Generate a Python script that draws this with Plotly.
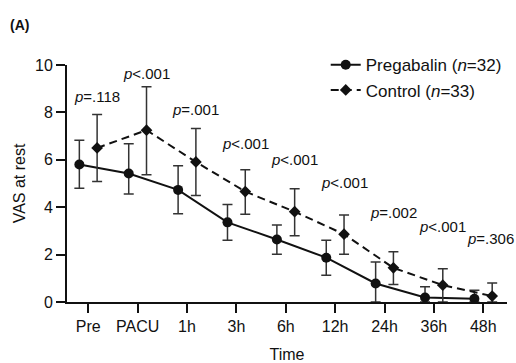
import plotly.graph_objects as go

times = ["Pre", "PACU", "1h", "3h", "6h", "12h", "24h", "36h", "48h"]
preg_mean = [5.8, 5.42, 4.73, 3.36, 2.64, 1.87, 0.78, 0.19, 0.14]
preg_plus = [1.02, 1.26, 1.02, 0.75, 0.61, 0.74, 0.91, 0.45, 0.36]
preg_minus = [1.0, 0.86, 1.01, 0.75, 0.62, 0.74, 0.78, 0.19, 0.14]
ctrl_mean = [6.5, 7.25, 5.91, 4.66, 3.81, 2.86, 1.44, 0.71, 0.25]
ctrl_plus = [1.41, 1.83, 1.41, 0.92, 0.97, 0.81, 0.68, 0.69, 0.55]
ctrl_minus = [1.42, 1.88, 1.42, 0.96, 1.01, 0.85, 0.70, 0.71, 0.25]
p_labels = ["=.118", "<.001", "=.001", "<.001", "<.001", "<.001", "=.002", "<.001", "=.306"]
p_label_y = [8.69, 9.65, 8.12, 6.70, 6.0, 5.04, 3.77, 3.18, 2.66]

FONT = "Liberation Sans, Arial, sans-serif"
INK = "#111111"
off = 0.18
idx = list(range(len(times)))

fig = go.Figure()
fig.add_trace(go.Scatter(
    x=[i - off for i in idx], y=preg_mean, mode="lines+markers",
    name="Pregabalin (<i>n</i>=32)",
    line=dict(color=INK, width=2),
    marker=dict(symbol="circle", size=10, color=INK),
    error_y=dict(type="data", symmetric=False, array=preg_plus, arrayminus=preg_minus,
                 color="#333333", thickness=1.5, width=5),
))
fig.add_trace(go.Scatter(
    x=[i + off for i in idx], y=ctrl_mean, mode="lines+markers",
    name="Control (<i>n</i>=33)",
    line=dict(color=INK, width=2, dash="8px,5px"),
    marker=dict(symbol="diamond", size=9, color=INK),
    error_y=dict(type="data", symmetric=False, array=ctrl_plus, arrayminus=ctrl_minus,
                 color="#333333", thickness=1.5, width=5),
))

for i, (lab, ly) in enumerate(zip(p_labels, p_label_y)):
    fig.add_annotation(x=i + off, y=ly, text="<i>p</i>" + lab, showarrow=False,
                       font=dict(family=FONT, size=15, color=INK), xanchor="center", yanchor="middle",
                       xshift=-2 if i == len(times) - 1 else 0)

fig.add_annotation(xref="paper", yref="paper", x=-0.134, y=1.167, text="<b>(A)</b>", showarrow=False,
                   font=dict(family=FONT, size=14, color=INK), xanchor="left", yanchor="middle")

fig.update_layout(
    template="none",
    width=516, height=363,
    margin=dict(l=67, r=9, t=65, b=61, autoexpand=False),
    paper_bgcolor="white", plot_bgcolor="white",
    font=dict(family=FONT, size=16, color=INK),
    showlegend=True,
    legend=dict(x=0.588, y=1.075, xanchor="left", yanchor="top", bgcolor="rgba(0,0,0,0)",
                font=dict(family=FONT, size=17, color=INK)),
    xaxis=dict(range=[-0.43, 8.48], tickvals=idx, ticktext=times, showgrid=False, zeroline=False,
               automargin=False,
               showline=True, linecolor=INK, linewidth=2, ticks="outside", ticklen=9, tickwidth=2,
               tickcolor=INK, tickfont=dict(size=16),
               title=dict(text="Time", font=dict(size=16), standoff=18)),
    yaxis=dict(range=[0, 10], tickvals=[0, 2, 4, 6, 8, 10], showgrid=False, zeroline=False,
               automargin=False,
               showline=True, linecolor=INK, linewidth=2, ticks="outside", ticklen=9, tickwidth=2,
               tickcolor=INK, tickfont=dict(size=16),
               title=dict(text="VAS at rest", font=dict(size=16), standoff=5)),
)

fig.write_html("out.html", config={"displayModeBar": False},
               post_script="document.body.style.margin='0';document.body.style.overflow='hidden';")
